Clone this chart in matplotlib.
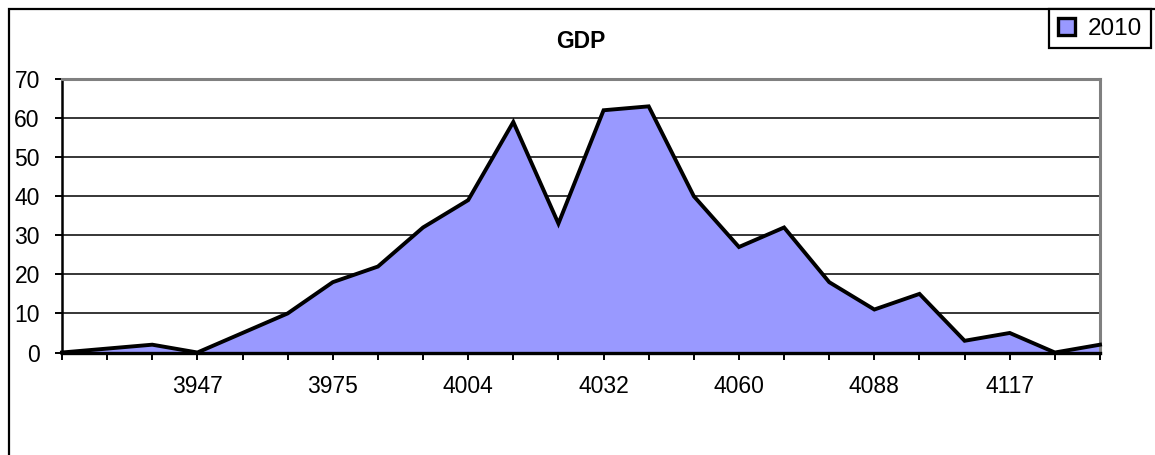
import matplotlib
matplotlib.use("Agg")
import matplotlib.pyplot as plt
from matplotlib.patches import Patch, Rectangle

plt.rcParams['font.family'] = ['Liberation Sans', 'DejaVu Sans']

# GDP for 2010, one value per category
gdp_2010 = [0, 1, 2, 0, 5, 10, 18, 22, 32, 39, 59, 33,
            62, 63, 40, 27, 32, 18, 11, 15, 3, 5, 0, 2]
# only every third category gets a label
x_labels = ["", "", "", "3947", "", "", "3975", "", "", "4004", "", "",
            "4032", "", "", "4060", "", "", "4088", "", "", "4117", "", ""]
y_ticks = [0, 10, 20, 30, 40, 50, 60, 70]
series_name = "2010"

fill_color = "#9999ff"

fig = plt.figure(figsize=(11.55, 4.55), dpi=100)
ax = fig.add_axes([62 / 1155, 1 - 352.5 / 455, 1038 / 1155, 273.5 / 455])

x = list(range(len(gdp_2010)))
ax.fill_between(x, gdp_2010, 0, color=fill_color, linewidth=0, zorder=2)
ax.plot(x, gdp_2010, color="black", linewidth=2.8, solid_joinstyle="miter",
        clip_on=False, zorder=3)

ax.set_xlim(0, len(gdp_2010) - 1)
ax.set_ylim(0, 70)
ax.set_xticks(x)
ax.set_xticklabels(x_labels)
ax.set_yticks(y_ticks)
ax.yaxis.grid(True, color="black", linewidth=1.1)
ax.set_axisbelow(True)

ax.tick_params(axis="x", direction="out", length=5, width=1.4, pad=11,
               labelsize=16.5, colors="black")
ax.tick_params(axis="y", direction="out", length=5, width=1.4, pad=11,
               labelsize=16.5, colors="black")

for side in ("top", "right"):
    ax.spines[side].set_color("#808080")
    ax.spines[side].set_linewidth(2.2)
ax.spines["left"].set_color("black")
ax.spines["left"].set_linewidth(1.8)
ax.spines["bottom"].set_color("black")
ax.spines["bottom"].set_linewidth(2.4)
ax.spines["bottom"].set_zorder(4)

fig.text(581 / 1155, 1 - 42 / 455, "GDP", ha="center", va="center",
         fontsize=16.5, fontweight="bold")

# chart frame, running off the right and bottom edges
fig.add_artist(Rectangle((9 / 1155, -0.1), 1.2, 1 - 9 / 455 + 0.1,
                         transform=fig.transFigure, fill=False,
                         edgecolor="black", linewidth=1.6))

handle = Patch(facecolor=fill_color, edgecolor="black", linewidth=2.4)
leg = fig.legend([handle], [series_name], loc="upper right",
                 bbox_to_anchor=(1151 / 1155, 1 - 9 / 455),
                 bbox_transform=fig.transFigure, borderaxespad=0,
                 fancybox=False, framealpha=1, edgecolor="black",
                 fontsize=17.5, handlelength=0.7, handleheight=0.7,
                 handletextpad=0.55, borderpad=0.35)
leg.get_frame().set_linewidth(1.6)

fig.savefig("out.png", dpi=100, facecolor="white")
